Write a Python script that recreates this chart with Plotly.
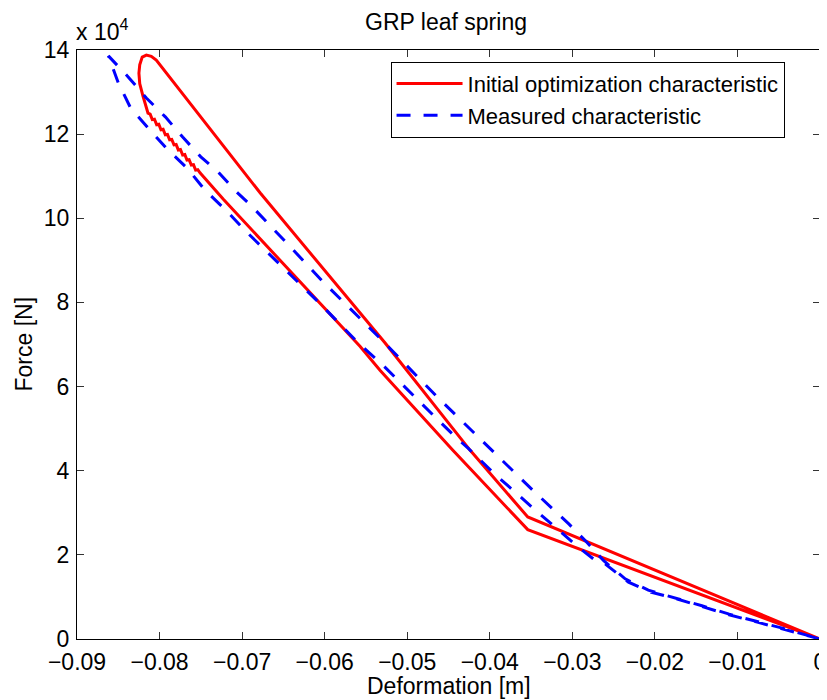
import plotly.graph_objects as go

# Initial optimization characteristic (closed hysteresis loop)
red_x = [0.0, -0.0354, -0.0424, -0.0527, -0.0678, -0.0719, -0.0785, -0.0804, -0.0810, -0.0816,
         -0.0821, -0.0824, -0.0825, -0.0824, -0.0820, -0.0817, -0.0814,
         -0.08114, -0.08088, -0.08062, -0.08035, -0.08009, -0.07983, -0.07957, -0.0793,
         -0.07904, -0.07878, -0.07852, -0.07825, -0.07799, -0.07773, -0.07747, -0.0772,
         -0.07694, -0.07668, -0.07642, -0.07615, -0.07589, -0.07563, -0.07537, -0.0751,
         -0.0723, -0.0557, -0.0533, -0.0445, -0.0354, 0.0]
red_y = [0, 29000, 44900, 70400, 106000, 116200, 132900, 137600, 138500, 138800,
         138300, 136500, 134500, 132000, 129000, 127000, 125000,
         124750, 123450, 123550, 122250, 122350, 121050, 121150, 119850,
         119950, 118650, 118750, 117450, 117550, 116250, 116350, 115050,
         115150, 113850, 113950, 112650, 112750, 111450, 111550, 110800,
         104600, 69500, 63900, 44900, 26000, 0]

# Measured characteristic (closed hysteresis loop)
blue_x = [0.0, -0.0048, -0.0076, -0.0109, -0.0142, -0.0173, -0.0206, -0.0232, -0.0260, -0.0269,
          -0.0290, -0.0317, -0.0344, -0.0394, -0.0426, -0.0442, -0.0465, -0.0531, -0.0559,
          -0.0606, -0.0650, -0.0697, -0.0719, -0.0745, -0.0767, -0.0792, -0.0814, -0.0835,
          -0.0850, -0.0862,
          -0.0838, -0.0816, -0.0793, -0.0772, -0.0750, -0.0729, -0.0709, -0.0688, -0.0642,
          -0.0602, -0.0555, -0.0530, -0.0464, -0.0398, -0.0346, -0.0304, -0.0283, -0.0262,
          -0.0236, -0.0208, -0.0175, -0.0143, -0.0110, -0.0077, -0.0048, 0.0]
blue_y = [0, 2600, 4000, 5700, 7600, 9500, 11200, 13500, 17800, 18200,
          21400, 25900, 30500, 39200, 45300, 48100, 52500, 65400, 70300,
          79800, 88100, 97200, 101800, 106700, 112000, 116700, 121500, 126200,
          132200, 138600,
          133600, 128600, 124100, 119300, 114600, 111000, 106700, 102800, 93300,
          84900, 75800, 70900, 57600, 44900, 35000, 27300, 23100, 18600,
          14300, 11600, 9800, 7900, 5900, 4200, 2700, 0]

x_ticks = [-0.09, -0.08, -0.07, -0.06, -0.05, -0.04, -0.03, -0.02, -0.01, 0.0]
x_tick_labels = ["\u22120.09", "\u22120.08", "\u22120.07", "\u22120.06", "\u22120.05",
                 "\u22120.04", "\u22120.03", "\u22120.02", "\u22120.01", "0"]
y_ticks = [0, 20000, 40000, 60000, 80000, 100000, 120000, 140000]
y_tick_labels = ["0", "2", "4", "6", "8", "10", "12", "14"]

FONT = "Liberation Sans, Arial, Helvetica, sans-serif"
FS = 23

# page body has an 8px margin; the figure is offset by it
W, H = 819, 692

fig = go.Figure()
fig.add_trace(go.Scatter(x=red_x, y=red_y, mode="lines", name="Initial optimization characteristic",
                         line=dict(color="#ff0000", width=3)))
fig.add_trace(go.Scatter(x=blue_x, y=blue_y, mode="lines", name="Measured characteristic",
                         line=dict(color="#0000ff", width=3, dash="14px,13px")))

axis_common = dict(showgrid=False, zeroline=False, showline=True, linecolor="black", linewidth=1,
                   mirror="ticks", ticks="inside", ticklen=7, tickwidth=1, tickcolor="#333333",
                   automargin=False, ticklabeloverflow="allow",
                   tickfont=dict(size=FS, color="black", family=FONT))

fig.update_layout(
    width=W, height=H,
    margin=dict(l=69, r=7, t=42, b=61),
    paper_bgcolor="white", plot_bgcolor="white",
    font=dict(family=FONT, size=FS, color="black"),
    title=dict(text="GRP leaf spring", x=438 / W, xanchor="center", y=1 - 14 / H, yanchor="middle",
               font=dict(size=FS, family=FONT, color="black")),
    xaxis=dict(range=[-0.09, 0], tickvals=x_ticks, ticktext=x_tick_labels, ticklabelstandoff=2,
               **axis_common),
    yaxis=dict(range=[0, 140000], tickvals=y_ticks, ticktext=y_tick_labels, ticklabelstandoff=2,
               **axis_common),
    legend=dict(x=0.422, y=0.980, xanchor="left", yanchor="top", bgcolor="white",
                bordercolor="black", borderwidth=1, font=dict(size=22, family=FONT),
                itemwidth=66, tracegroupgap=0),
    showlegend=True,
)

fig.add_annotation(text="Deformation [m]", xref="paper", yref="paper", x=0.5, y=0,
                   xanchor="center", yanchor="middle", yshift=-47, showarrow=False,
                   font=dict(size=FS, family=FONT, color="black"))
fig.add_annotation(text="Force [N]", xref="paper", yref="paper", x=0, y=0.5, textangle=-90,
                   xanchor="center", yanchor="middle", xshift=-54, showarrow=False,
                   font=dict(size=FS, family=FONT, color="black"))
fig.add_annotation(text="x 10<sup>4</sup>", xref="paper", yref="paper", x=0, y=1,
                   xanchor="left", yanchor="bottom", yshift=3, xshift=-3, showarrow=False,
                   font=dict(size=FS, family=FONT, color="black"))

fig.write_html("out.html")
